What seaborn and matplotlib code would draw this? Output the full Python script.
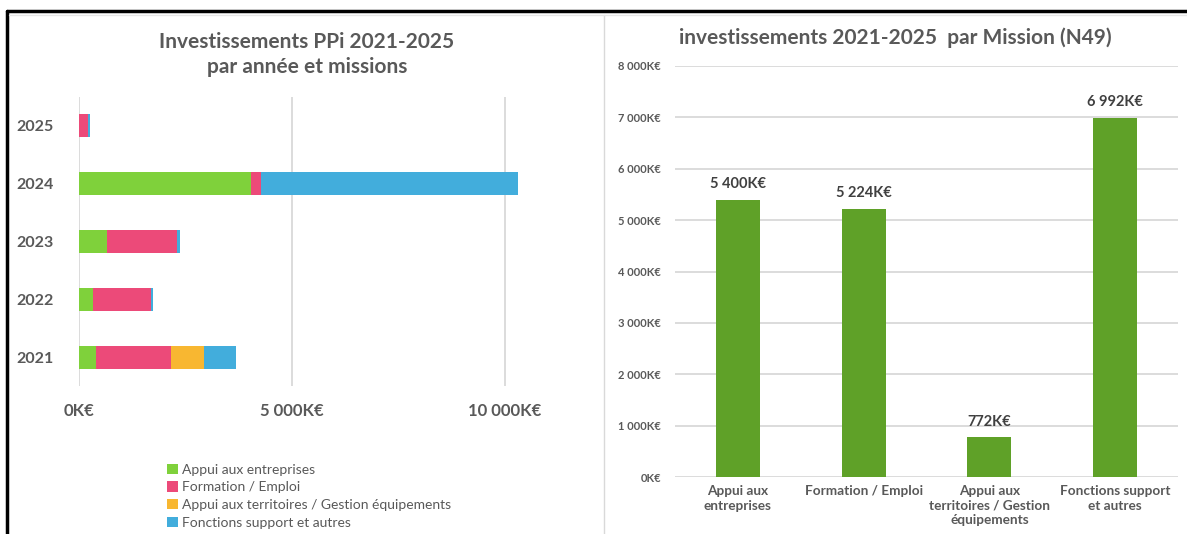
import matplotlib
matplotlib.use("Agg")
import matplotlib.pyplot as plt
import seaborn as sns
import pandas as pd
import numpy as np
from matplotlib.patches import Patch
from matplotlib.lines import Line2D

# ---- data ----
years = ["2025", "2024", "2023", "2022", "2021"]
appui_entreprises = [0, 4030, 650, 330, 390]
formation_emploi = [204, 240, 1650, 1360, 1770]
appui_territoires = [0, 0, 0, 0, 772]
fonctions_support = [60, 6030, 65, 45, 760]
series_names = ["Appui aux entreprises", "Formation / Emploi",
                "Appui aux territoires / Gestion équipements",
                "Fonctions support et autres"]
series_colors = ["#7FD13B", "#EC4A79", "#F8B731", "#42ADDC"]
left_xticks = [0, 5000, 10000]
left_xticklabels = ["0K€", "5 000K€", "10 000K€"]

missions = ["Appui aux\nentreprises", "Formation / Emploi",
            "Appui aux\nterritoires / Gestion\néquipements",
            "Fonctions support\net autres"]
mission_totals = [5400, 5224, 772, 6992]
mission_labels = ["5 400K€", "5 224K€", "772K€", "6 992K€"]
right_yticks = [0, 1000, 2000, 3000, 4000, 5000, 6000, 7000, 8000]
right_yticklabels = ["0K€", "1 000K€", "2 000K€", "3 000K€", "4 000K€",
                     "5 000K€", "6 000K€", "7 000K€", "8 000K€"]

sns.set_theme(style="white")
plt.rcParams["font.family"] = ["Lato", "DejaVu Sans"]

gray = "#595959"
fig = plt.figure(figsize=(11.87, 5.34), dpi=100)

# ---- left chart: stacked horizontal bars ----
axl = fig.add_axes([79 / 1187, (534 - 386) / 534, 490 / 1187, 289 / 534])
df = pd.DataFrame({"year": years,
                   "s0": appui_entreprises, "s1": formation_emploi,
                   "s2": appui_territoires, "s3": fonctions_support})
cum = df[["s0", "s1", "s2", "s3"]].cumsum(axis=1)
for i in [3, 2, 1, 0]:
    sns.barplot(x=cum.iloc[:, i].values, y=df["year"], order=years, orient="h",
                color=series_colors[i], saturation=1, width=0.4, ax=axl,
                linewidth=0)
axl.set_xlim(0, 11500)
axl.set_ylim(4.5, -0.5)
axl.set_xticks(left_xticks)
axl.set_xticklabels(left_xticklabels, fontsize=12, color=gray, fontweight="bold")
axl.tick_params(axis="y", labelsize=11.5, labelcolor=gray, pad=18)
for lab in axl.get_yticklabels():
    lab.set_fontweight("bold")
axl.tick_params(axis="x", pad=12, length=0)
axl.tick_params(axis="y", length=0)
axl.set_xlabel("")
axl.set_ylabel("")
axl.grid(axis="x", color="#D9D9D9", linewidth=1.3)
axl.set_axisbelow(True)
for s in axl.spines.values():
    s.set_visible(False)
fig.text(307 / 1187, 1 - 42 / 534, "Investissements PPi 2021-2025", ha="center",
         va="center", fontsize=15, fontweight="bold", color=gray)
fig.text(307 / 1187, 1 - 67 / 534, "par année et missions", ha="center",
         va="center", fontsize=15, fontweight="bold", color=gray)

handles = [Patch(facecolor=c, edgecolor="none") for c in series_colors]
fig.legend(handles, series_names, loc="upper left",
           bbox_to_anchor=(155 / 1187, 1 - 451 / 534), frameon=False,
           fontsize=10, labelcolor=gray, handlelength=0.75, handleheight=0.75,
           handletextpad=0.3, labelspacing=0.42)

# ---- right chart: totals per mission ----
axr = fig.add_axes([675 / 1187, 57 / 534, 503 / 1187, 411 / 534])
dfr = pd.DataFrame({"mission": missions, "total": mission_totals})
sns.barplot(data=dfr, x="mission", y="total", color="#5FA128", saturation=1,
            width=0.35, ax=axr, linewidth=0)
axr.set_ylim(0, 8000)
axr.set_xlim(-0.5, 3.5)
axr.set_yticks(right_yticks)
axr.set_yticklabels(right_yticklabels, fontsize=8, color=gray, fontweight="bold")
axr.tick_params(axis="y", length=0, pad=10)
axr.tick_params(axis="x", length=0, pad=6, labelsize=9.8, labelcolor=gray)
for lab in axr.get_xticklabels():
    lab.set_fontweight("bold")
    lab.set_linespacing(1.25)
axr.set_xlabel("")
axr.set_ylabel("")
axr.grid(axis="y", color="#D9D9D9", linewidth=1.3)
axr.set_axisbelow(True)
for s in axr.spines.values():
    s.set_visible(False)
for i, (v, t) in enumerate(zip(mission_totals, mission_labels)):
    axr.annotate(t, (i, v), xytext=(0, 6), textcoords="offset points",
                 ha="center", va="bottom", fontsize=10.5, fontweight="bold",
                 color="#404040")
fig.text(895 / 1187, 1 - 38 / 534, "investissements 2021-2025  par Mission (N49)",
         ha="center", va="center", fontsize=15, fontweight="bold", color=gray)

# ---- frame lines ----
fig.add_artist(Line2D([7 / 1187, 1], [1 - 11 / 534, 1 - 11 / 534],
                      color="black", linewidth=2.5, transform=fig.transFigure))
fig.add_artist(Line2D([7 / 1187, 7 / 1187], [0, 1 - 11 / 534],
                      color="black", linewidth=2.5, transform=fig.transFigure))
fig.add_artist(Line2D([604 / 1187, 604 / 1187], [0, 1 - 15 / 534],
                      color="#D9D9D9", linewidth=1, transform=fig.transFigure))
fig.add_artist(Line2D([9 / 1187, 1], [1 - 15 / 534, 1 - 15 / 534],
                      color="#E6E6E6", linewidth=1, transform=fig.transFigure))

fig.savefig("out.png", dpi=100)
